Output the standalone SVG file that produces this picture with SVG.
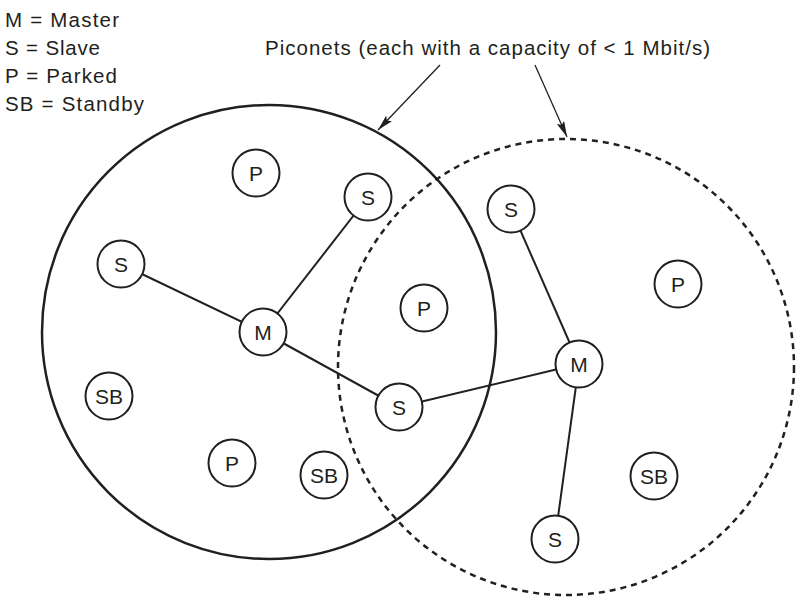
<svg xmlns="http://www.w3.org/2000/svg" width="805" height="606" viewBox="0 0 805 606">
<style>
text{font-family:"Liberation Sans",Arial,sans-serif;fill:#231f20}
.leg{font-size:20.5px}
.node circle{fill:#fff;stroke:#231f20;stroke-width:2}
.node text{font-size:21px;text-anchor:middle}
.link{stroke:#231f20;stroke-width:2;fill:none}
.ptr{stroke:#231f20;stroke-width:1.3;fill:none}
</style>
<defs>
<marker id="ah" viewBox="0 0 16 8" refX="16" refY="4" markerWidth="16" markerHeight="8" markerUnits="userSpaceOnUse" orient="auto">
<path d="M0,0 L16,4 L0,8 L3,4 Z" fill="#231f20"/>
</marker>
</defs>
<rect width="805" height="606" fill="#fff"/>
<g id="legend">
<text class="leg" x="5" y="27" textLength="114" lengthAdjust="spacing">M = Master</text>
<text class="leg" x="5" y="55" textLength="95" lengthAdjust="spacing">S = Slave</text>
<text class="leg" x="5" y="83" textLength="112" lengthAdjust="spacing">P = Parked</text>
<text class="leg" x="5" y="111" textLength="139" lengthAdjust="spacing">SB = Standby</text>
</g>
<g id="piconet1"><circle cx="269" cy="332" r="227" fill="none" stroke="#231f20" stroke-width="2.5"/></g>
<g id="piconet2"><circle cx="566" cy="367" r="228" fill="none" stroke="#231f20" stroke-width="2.5" stroke-dasharray="6,5"/></g>
<g id="caption">
<text class="leg" x="265" y="55" textLength="445" lengthAdjust="spacing">Piconets (each with a capacity of &lt; 1 Mbit/s)</text>
</g>
<g id="connectors">
<line class="ptr" x1="440" y1="65" x2="378" y2="130" marker-end="url(#ah)"/>
<line class="ptr" x1="535" y1="65" x2="567" y2="137" marker-end="url(#ah)"/>
<line class="link" x1="121" y1="264" x2="263" y2="332"/>
<line class="link" x1="368" y1="197" x2="263" y2="332"/>
<line class="link" x1="263" y1="332" x2="399" y2="407"/>
<line class="link" x1="399" y1="407" x2="579" y2="364"/>
<line class="link" x1="511" y1="209" x2="579" y2="364"/>
<line class="link" x1="579" y1="364" x2="555" y2="539"/>
</g>
<g id="n_p1" class="node"><circle cx="256" cy="173" r="23.5"/><text x="256" y="180.5">P</text></g>
<g id="n_s1" class="node"><circle cx="368" cy="197" r="23.5"/><text x="368" y="204.5">S</text></g>
<g id="n_s2" class="node"><circle cx="121" cy="264" r="23.5"/><text x="121" y="271.5">S</text></g>
<g id="n_m1" class="node"><circle cx="263" cy="332" r="23.5"/><text x="263" y="339.5">M</text></g>
<g id="n_p2" class="node"><circle cx="424" cy="308" r="23.5"/><text x="424" y="315.5">P</text></g>
<g id="n_s3" class="node"><circle cx="511" cy="209" r="23.5"/><text x="511" y="216.5">S</text></g>
<g id="n_p3" class="node"><circle cx="678" cy="284" r="23.5"/><text x="678" y="291.5">P</text></g>
<g id="n_m2" class="node"><circle cx="579" cy="364" r="23.5"/><text x="579" y="371.5">M</text></g>
<g id="n_s4" class="node"><circle cx="399" cy="407" r="23.5"/><text x="399" y="414.5">S</text></g>
<g id="n_sb1" class="node"><circle cx="109" cy="396" r="23.5"/><text x="109" y="403.5">SB</text></g>
<g id="n_p4" class="node"><circle cx="232" cy="463" r="23.5"/><text x="232" y="470.5">P</text></g>
<g id="n_sb2" class="node"><circle cx="324" cy="475" r="23.5"/><text x="324" y="482.5">SB</text></g>
<g id="n_sb3" class="node"><circle cx="654" cy="476" r="23.5"/><text x="654" y="483.5">SB</text></g>
<g id="n_s5" class="node"><circle cx="555" cy="539" r="23.5"/><text x="555" y="546.5">S</text></g>
</svg>
